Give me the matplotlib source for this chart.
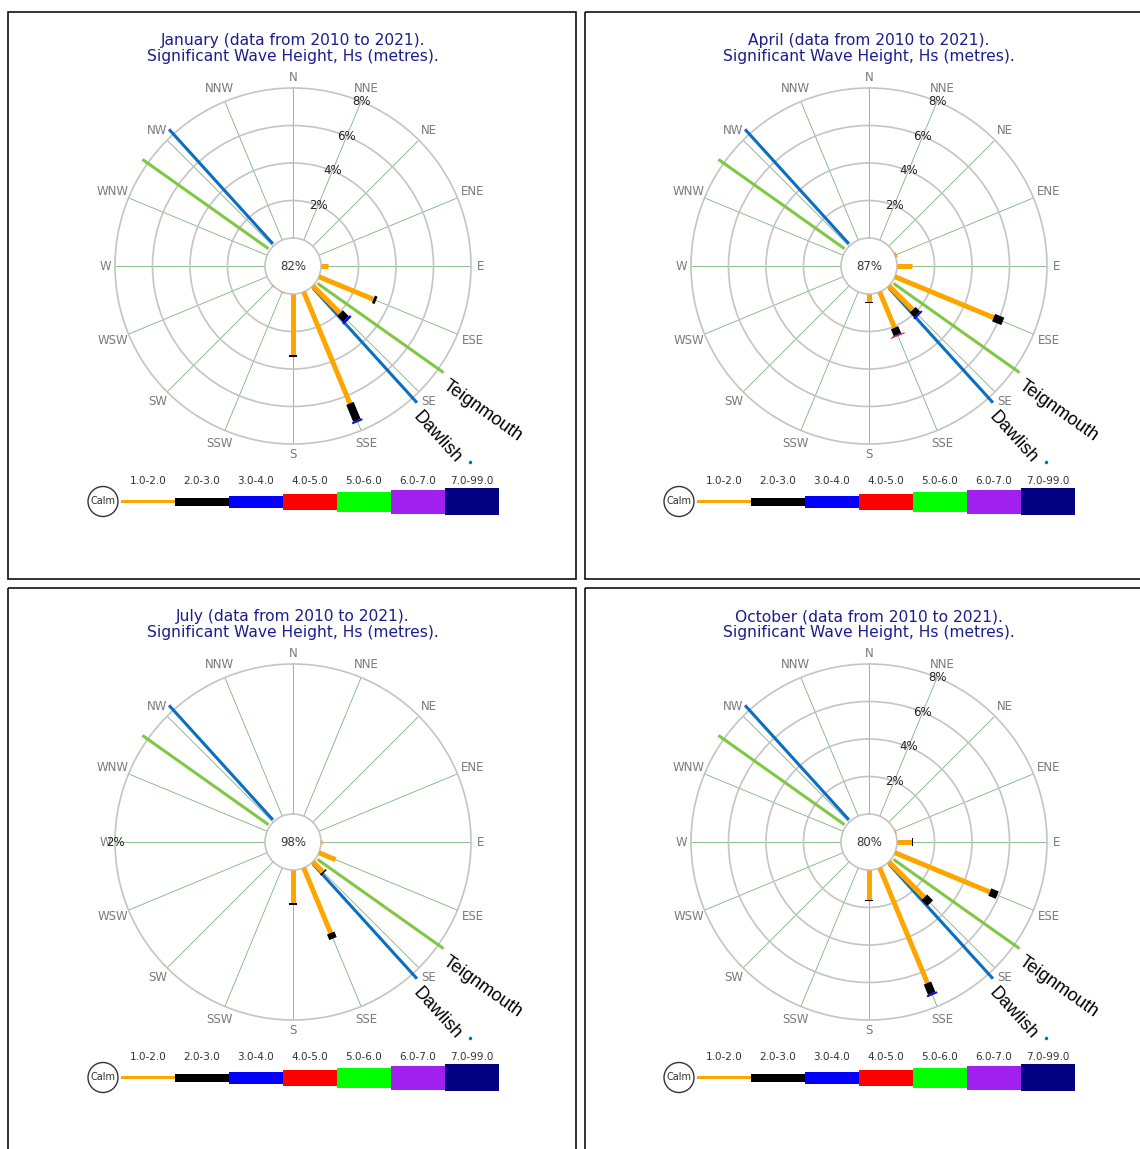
import numpy as np
import matplotlib.pyplot as plt
from matplotlib.patches import Rectangle, Circle

W, H = 1140, 1149

# compass points, clockwise from north
directions = ['N', 'NNE', 'NE', 'ENE', 'E', 'ESE', 'SE', 'SSE',
              'S', 'SSW', 'SW', 'WSW', 'W', 'WNW', 'NW', 'NNW']
bearings = np.arange(16) * 22.5

months = ['January', 'April', 'July', 'October']
calm_pct = [82, 87, 98, 80]
ring_max = [8, 8, 2, 8]
ring_step = [2, 2, 2, 2]
ring_label_dir = [22.5, 22.5, 270, 22.5]

# rows = Hs class 1.0-2.0, 2.0-3.0, 3.0-4.0, 4.0-5.0 ; columns follow `directions` (%)
jan = [[0, 0, 0, 0, 0.39, 3.15, 2.06, 6.44, 3.25, 0.05, 0.04, 0, 0, 0, 0, 0],
       [0, 0, 0, 0, 0, 0.15, 0.44, 0.98, 0.10, 0, 0, 0, 0, 0, 0, 0],
       [0, 0, 0, 0, 0, 0, 0.13, 0.10, 0, 0, 0, 0, 0, 0, 0, 0],
       [0] * 16]
apr = [[0, 0, 0, 0.10, 0.78, 5.70, 1.81, 2.07, 0.41, 0, 0, 0, 0, 0, 0, 0],
       [0, 0, 0, 0, 0, 0.53, 0.34, 0.40, 0.05, 0, 0, 0, 0, 0, 0, 0],
       [0, 0, 0, 0, 0, 0, 0.10, 0.03, 0, 0, 0, 0, 0, 0, 0, 0],
       [0, 0, 0, 0, 0, 0, 0, 0.05, 0, 0, 0, 0, 0, 0, 0, 0]]
jul = [[0, 0, 0, 0, 0.01, 0.24, 0.19, 0.94, 0.44, 0, 0, 0, 0, 0, 0, 0],
       [0, 0, 0, 0, 0, 0, 0.02, 0.08, 0.02, 0, 0, 0, 0, 0, 0, 0],
       [0] * 16,
       [0] * 16]
octo = [[0, 0, 0, 0.05, 0.82, 5.48, 2.68, 6.65, 1.60, 0, 0, 0, 0, 0, 0, 0],
        [0, 0, 0, 0, 0.05, 0.43, 0.44, 0.60, 0.03, 0, 0, 0, 0, 0, 0, 0],
        [0, 0, 0, 0, 0, 0, 0, 0.10, 0, 0, 0, 0, 0, 0, 0, 0],
        [0] * 16]
month_data = [jan, apr, jul, octo]

class_labels = ['1.0-2.0', '2.0-3.0', '3.0-4.0', '4.0-5.0', '5.0-6.0', '6.0-7.0', '7.0-99.0']
class_colors = ['#ffa500', '#000000', '#0000ff', '#ff0000', '#00ff00', '#a020f0', '#000080']
bar_px = [5, 8, 11, 15]
key_px = [3, 8, 12, 16, 20, 24, 27]

# coastline orientation lines
stations = ['Dawlish', 'Teignmouth']
station_bearing = [137.8, 125.3]
station_color = ['#0b6fc0', '#80c843']

centres = [(293, 266), (869, 266), (293, 842), (869, 842)]
R_OUT, R_CALM = 178, 28

fig = plt.figure(figsize=(W / 100, H / 100), dpi=100)
bg = fig.add_axes([0, 0, 1, 1])
bg.set_xlim(0, W)
bg.set_ylim(H, 0)
bg.axis('off')

# panel frames
for x0, y0 in [(8, 12), (584.5, 12), (8, 588), (584.5, 588)]:
    bg.add_patch(Rectangle((x0, y0), 568, 567 if y0 < 100 else 600,
                           fill=False, ec='#111111', lw=1.2))

for m, (cx, cy) in enumerate(centres):
    rmax = ring_max[m]
    k = rmax / (R_OUT - R_CALM)          # data units per pixel

    def px2r(p):
        return (p - R_CALM) * k

    # titles
    bg.text(cx, cy - 225, months[m] + ' (data from 2010 to 2021).', ha='center', va='center',
            fontsize=11.2, color='#1c1c8f')
    bg.text(cx, cy - 209.5, 'Significant Wave Height, Hs (metres).', ha='center', va='center',
            fontsize=11.2, color='#1c1c8f')

    ax = fig.add_axes([(cx - R_OUT) / W, 1 - (cy + R_OUT) / H, 2 * R_OUT / W, 2 * R_OUT / H],
                      projection='polar')
    ax.set_theta_zero_location('N')
    ax.set_theta_direction(-1)
    ax.set_rlim(0, rmax)
    ax.set_rorigin(-R_CALM * k)
    rings = list(np.arange(ring_step[m], rmax, ring_step[m]))
    ax.set_yticks(rings)
    ax.set_yticklabels([])
    ax.set_xticks(np.radians(bearings))
    ax.set_xticklabels([])
    ax.tick_params(length=0)
    ax.xaxis.grid(True, color='#5aa05a', lw=0.6, alpha=0.8)
    ax.yaxis.grid(True, color='#c4c4c4', lw=1.2, ls='-')
    for s in ['polar', 'inner']:
        ax.spines[s].set_color('#c4c4c4')
        ax.spines[s].set_linewidth(1.2)

    # ring labels
    for r in rings + [rmax]:
        ax.text(np.radians(ring_label_dir[m]), r, '%d%%' % r, ha='center', va='center',
                fontsize=8.5, color='#222222', zorder=6, clip_on=False)

    # compass labels
    for b, d in zip(bearings, directions):
        th = np.radians(b)
        w = 6.6 * len(d)
        p = 184 + 0.5 * (abs(np.sin(th)) * w + abs(np.cos(th)) * 9)
        ax.text(th, px2r(p), d, ha='center', va='center', fontsize=8.5,
                color='#7a7a7a', clip_on=False)

    # coastline lines and names
    for name, b, c in zip(stations, station_bearing, station_color):
        for bb in (b, b + 180):
            ax.plot([np.radians(bb)] * 2, [px2r(30), px2r(184.5)], color=c, lw=2.2,
                    solid_capstyle='butt', clip_on=False, zorder=3)
        ax.text(np.radians(b), px2r(192), name, rotation=90 - b, rotation_mode='anchor',
                ha='left', va='top', fontsize=13, family='Liberation Sans',
                color='black', clip_on=False)
    ax.plot(np.radians(station_bearing[0]), px2r(264), 'o', ms=1.5,
            color=station_color[0], clip_on=False)

    # stacked wave height bars
    data = month_data[m]
    for i, b in enumerate(bearings):
        cum = 0
        for c in range(len(data)):
            v = data[c][i]
            if v > 0:
                ax.plot([np.radians(b)] * 2, [cum, cum + v], color=class_colors[c],
                        lw=bar_px[c] * 0.72, solid_capstyle='butt', zorder=4, clip_on=False)
                cum += v

    bg.text(cx, cy, '%d%%' % calm_pct[m], ha='center', va='center', fontsize=8.5,
            color='#333333', zorder=10)

    # key
    ly = cy + 235.5
    bg.add_patch(Circle((cx - 190, ly), 15, fill=False, ec='#333333', lw=1))
    bg.text(cx - 190, ly, 'Calm', ha='center', va='center', fontsize=7, color='#333333')
    for j, (lab, col, hgt) in enumerate(zip(class_labels, class_colors, key_px)):
        x0 = cx - 172 if j == 0 else cx - 118 + (j - 1) * 54
        wid = 54
        bg.add_patch(Rectangle((x0, ly - hgt / 2), wid, hgt, color=col, lw=0))
        bg.text(x0 + wid / 2, cy + 215, lab, ha='center', va='center', fontsize=7.5,
                color='#333333')

fig.savefig('out.png', dpi=100)
